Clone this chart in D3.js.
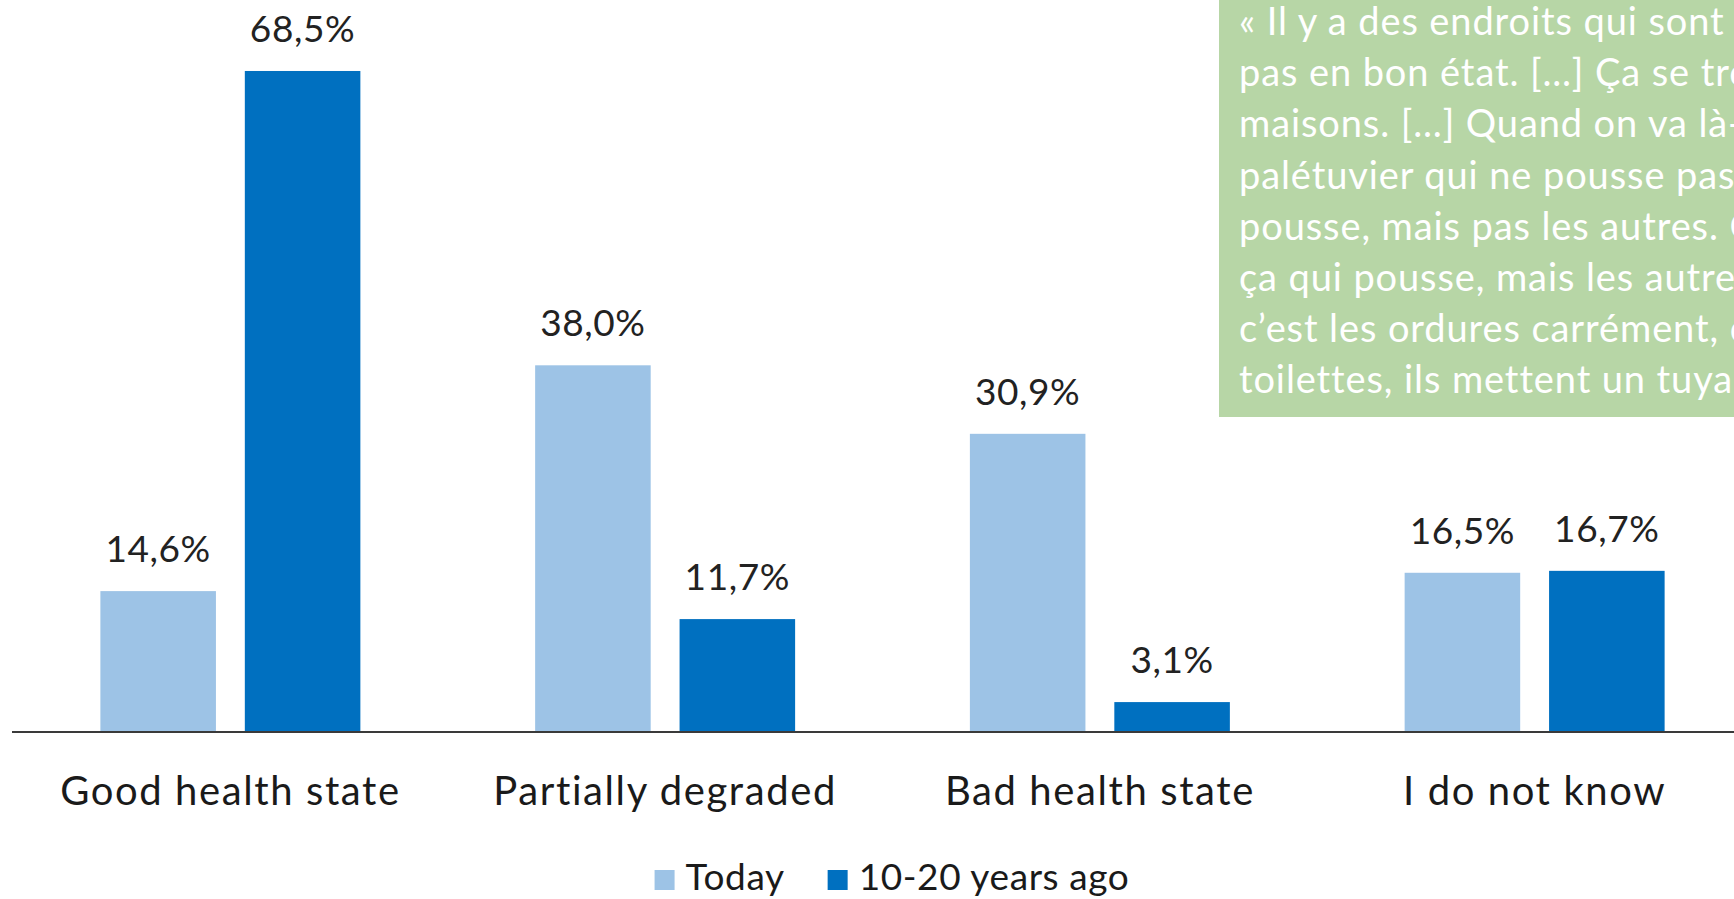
<!DOCTYPE html>
<html>
<head>
<meta charset="utf-8">
<script src="https://cdn.jsdelivr.net/npm/d3@7"></script>
<style>
  html, body { margin: 0; padding: 0; background: #ffffff; overflow: hidden; }
  svg { display: block; font-family: Lato, "Open Sans", sans-serif; }
</style>
</head>
<body>
<svg id="chart" width="1734" height="899"></svg>
<script>
// Perceived state of the mangrove, today vs. 10-20 years ago (percent of respondents)
const categories = ["Good health state", "Partially degraded", "Bad health state", "I do not know"];
const seriesNames = ["Today", "10-20 years ago"];
const todayValues = [14.6, 38.0, 30.9, 16.5];
const pastValues = [68.5, 11.7, 3.1, 16.7];
const seriesColors = ["#9dc3e6", "#0070c0"];

// Quotation shown in the green call-out box
const quoteLines = [
  "« Il y a des endroits qui sont complètement",
  "pas en bon état. […] Ça se trouve",
  "maisons. […] Quand on va là-bas",
  "palétuvier qui ne pousse pas",
  "pousse, mais pas les autres. C’est",
  "ça qui pousse, mais les autres",
  "c’est les ordures carrément, car",
  "toilettes, ils mettent un tuyau"
];

const svg = d3.select("#chart");
const W = 1734, H = 899;

const baseY = 732;
const x0 = d3.scaleBand()
  .domain(categories)
  .range([13, 1752])
  .paddingInner(0.402)
  .paddingOuter(0.201);

const x1 = d3.scaleBand()
  .domain(seriesNames)
  .range([0, x0.bandwidth()])
  .paddingInner(0.2);

const y = d3.scaleLinear()
  .domain([0, 70])
  .range([baseY, baseY - 70 * 9.65]);

const color = d3.scaleOrdinal().domain(seriesNames).range(seriesColors);

const rows = categories.map((c, i) => ({
  category: c,
  values: [
    { series: seriesNames[0], value: todayValues[i] },
    { series: seriesNames[1], value: pastValues[i] }
  ]
}));

const fmt = v => d3.format(".1f")(v).replace(".", ",") + "%";

const groups = svg.append("g").selectAll("g")
  .data(rows)
  .join("g")
  .attr("transform", d => `translate(${x0(d.category)},0)`);

groups.selectAll("rect")
  .data(d => d.values)
  .join("rect")
  .attr("x", d => x1(d.series))
  .attr("width", x1.bandwidth())
  .attr("y", d => y(d.value))
  .attr("height", d => y(0) - y(d.value))
  .attr("fill", d => color(d.series));

groups.selectAll("text.value")
  .data(d => d.values)
  .join("text")
  .attr("class", "value")
  .attr("x", d => x1(d.series) + x1.bandwidth() / 2)
  .attr("y", d => y(d.value) - 29)
  .attr("text-anchor", "middle")
  .attr("font-size", 37)
  .attr("letter-spacing", 0.6)
  .attr("fill", "#222222")
  .text(d => fmt(d.value));

// Category axis: baseline only, labels below
const xAxis = svg.append("g")
  .attr("transform", `translate(0,${baseY})`)
  .call(d3.axisBottom(x0).tickSize(0).tickPadding(0));
xAxis.select(".domain")
  .attr("d", `M12,0H${W}`)
  .attr("stroke", "#3a3a3a")
  .attr("stroke-width", 2);
xAxis.selectAll(".tick text")
  .attr("y", 73)
  .attr("dy", 0)
  .attr("font-family", "Lato, sans-serif")
  .attr("font-size", 40)
  .attr("letter-spacing", 1.6)
  .attr("fill", "#1a1a1a");

// Legend
const legend = svg.append("g");
const items = legend.selectAll("g")
  .data(seriesNames)
  .join("g");
items.append("rect")
  .attr("width", 20)
  .attr("height", 20)
  .attr("y", -20)
  .attr("fill", d => color(d));
items.append("text")
  .attr("x", 31)
  .attr("y", 0)
  .attr("font-size", 37)
  .attr("letter-spacing", 0.6)
  .attr("fill", "#1a1a1a")
  .text(d => d);
let cursor = 0;
items.each(function () {
  const g = d3.select(this);
  g.attr("transform", `translate(${cursor},0)`);
  cursor += 31 + g.select("text").node().getComputedTextLength() + 43;
});
const legendWidth = cursor - 43;
legend.attr("transform", `translate(${892 - legendWidth / 2},890)`);

// Quotation call-out box
const quote = svg.append("g");
quote.append("rect")
  .attr("x", 1219)
  .attr("y", -2)
  .attr("width", W - 1219 + 2)
  .attr("height", 419)
  .attr("fill", "#b7d6a6");
quote.selectAll("text")
  .data(quoteLines)
  .join("text")
  .attr("x", 1239)
  .attr("y", (d, i) => 35 + i * 51.2)
  .attr("font-size", 38)
  .attr("letter-spacing", 0.9)
  .attr("fill", "#ffffff")
  .text(d => d);
</script>
</body>
</html>
